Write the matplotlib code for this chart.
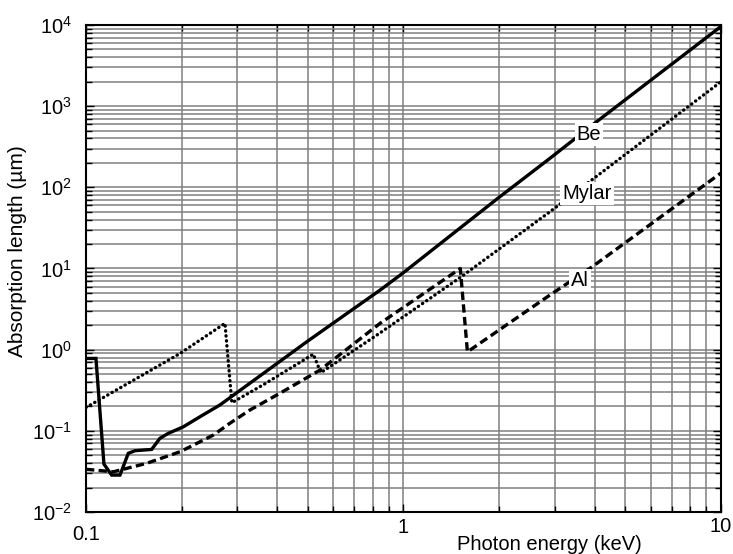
import matplotlib
matplotlib.use("Agg")
import matplotlib.pyplot as plt
from matplotlib.ticker import LogLocator, NullFormatter
from matplotlib.transforms import ScaledTranslation

plt.rcParams["font.family"] = ["Liberation Sans", "DejaVu Sans"]
plt.rcParams["axes.unicode_minus"] = False

# Photon energy (keV) and absorption length (um) for each window material
energy_be = [0.1, 0.1075, 0.1139, 0.1205, 0.128, 0.1359, 0.1427, 0.161, 0.171,
             0.1816, 0.2025, 0.2285, 0.264, 0.328, 0.5, 0.844, 1.0, 1.98, 2.89,
             4.02, 10.0]
length_be = [0.78, 0.78, 0.039, 0.0285, 0.0285, 0.0528, 0.0569, 0.059, 0.081,
             0.093, 0.112, 0.149, 0.208, 0.385, 1.28, 5.42, 8.9, 73, 227,
             625, 9600]

energy_mylar = [0.1, 0.198, 0.274, 0.288, 0.362, 0.52, 0.549, 0.844, 1.52,
                2.89, 10.0]
length_mylar = [0.194, 0.90, 2.11, 0.222, 0.37, 0.88, 0.52, 1.61, 7.9,
                49.9, 2000]

energy_al = [0.1, 0.1219, 0.1553, 0.198, 0.2519, 0.284, 0.328, 0.408, 0.546,
             0.844, 1.51, 1.59, 2.89, 3.93, 10.0]
length_al = [0.0336, 0.0313, 0.0398, 0.0553, 0.0888, 0.124, 0.18, 0.29, 0.561,
             2.11, 10.0, 0.94, 4.7, 10.5, 150]

curve_labels = ["Be", "Mylar", "Al"]
x_ticks = [0.1, 1, 10]
x_tick_labels = ["0.1", "1", "10"]

fig = plt.figure(figsize=(7.33, 5.54), dpi=100)
ax = fig.add_axes([0.1173, 0.0758, 0.8663, 0.8791])

ax.set_xscale("log")
ax.set_yscale("log")
ax.set_xlim(0.1, 10)
ax.set_ylim(1e-2, 1e4)

ax.grid(True, which="both", color="#808080", linewidth=1.1, zorder=0)
ax.set_axisbelow(True)

lw = 2.4
ax.plot(energy_be, length_be, color="black", linewidth=lw, linestyle="-",
        solid_joinstyle="miter", zorder=3)
ax.plot(energy_mylar, length_mylar, color="black", linewidth=lw,
        linestyle=(0, (0.1, 1.4)), dash_capstyle="round", zorder=3)
ax.plot(energy_al, length_al, color="black", linewidth=lw,
        linestyle=(0, (2.5, 1.3)), zorder=3)

label_pos = [(0.792, 0.776), (0.789, 0.654), (0.778, 0.476)]
for text, (lx, ly) in zip(curve_labels, label_pos):
    ax.text(lx, ly, text, transform=ax.transAxes, fontsize=14.5,
            ha="center", va="center", zorder=5,
            bbox=dict(facecolor="white", edgecolor="none", pad=1.5))

ax.set_xticks(x_ticks)
ax.set_xticklabels(x_tick_labels)
ax.xaxis.set_minor_locator(LogLocator(base=10, subs=range(2, 10), numticks=20))
ax.xaxis.set_minor_formatter(NullFormatter())
ax.yaxis.set_major_locator(LogLocator(base=10, numticks=10))
ax.yaxis.set_minor_locator(LogLocator(base=10, subs=range(2, 10), numticks=20))
ax.yaxis.set_minor_formatter(NullFormatter())

ax.tick_params(which="both", direction="in", top=True, right=True,
               labelsize=14.5, width=1.0)
ax.tick_params(which="major", length=6)
ax.tick_params(which="minor", length=4)
ax.tick_params(axis="x", pad=9)
ax.tick_params(axis="y", pad=10)

for spine in ax.spines.values():
    spine.set_linewidth(1.5)

fig.text(549 / 733, 1 - 544 / 554, "Photon energy (keV)", fontsize=14.5,
         ha="center", va="center")
fig.text(18 / 733, 1 - 251 / 554, "Absorption length (\u00b5m)", fontsize=15,
         ha="center", va="center", rotation=90)

# lift the "1" and "10" energy labels slightly above the "0.1" label
fig.canvas.draw()
x_label_lift = [0.0, 0.07, 0.08]
for tick_label, lift in zip(ax.get_xticklabels(), x_label_lift):
    tick_label.set_transform(tick_label.get_transform()
                             + ScaledTranslation(0, lift, fig.dpi_scale_trans))

fig.savefig("out.png", dpi=100)
